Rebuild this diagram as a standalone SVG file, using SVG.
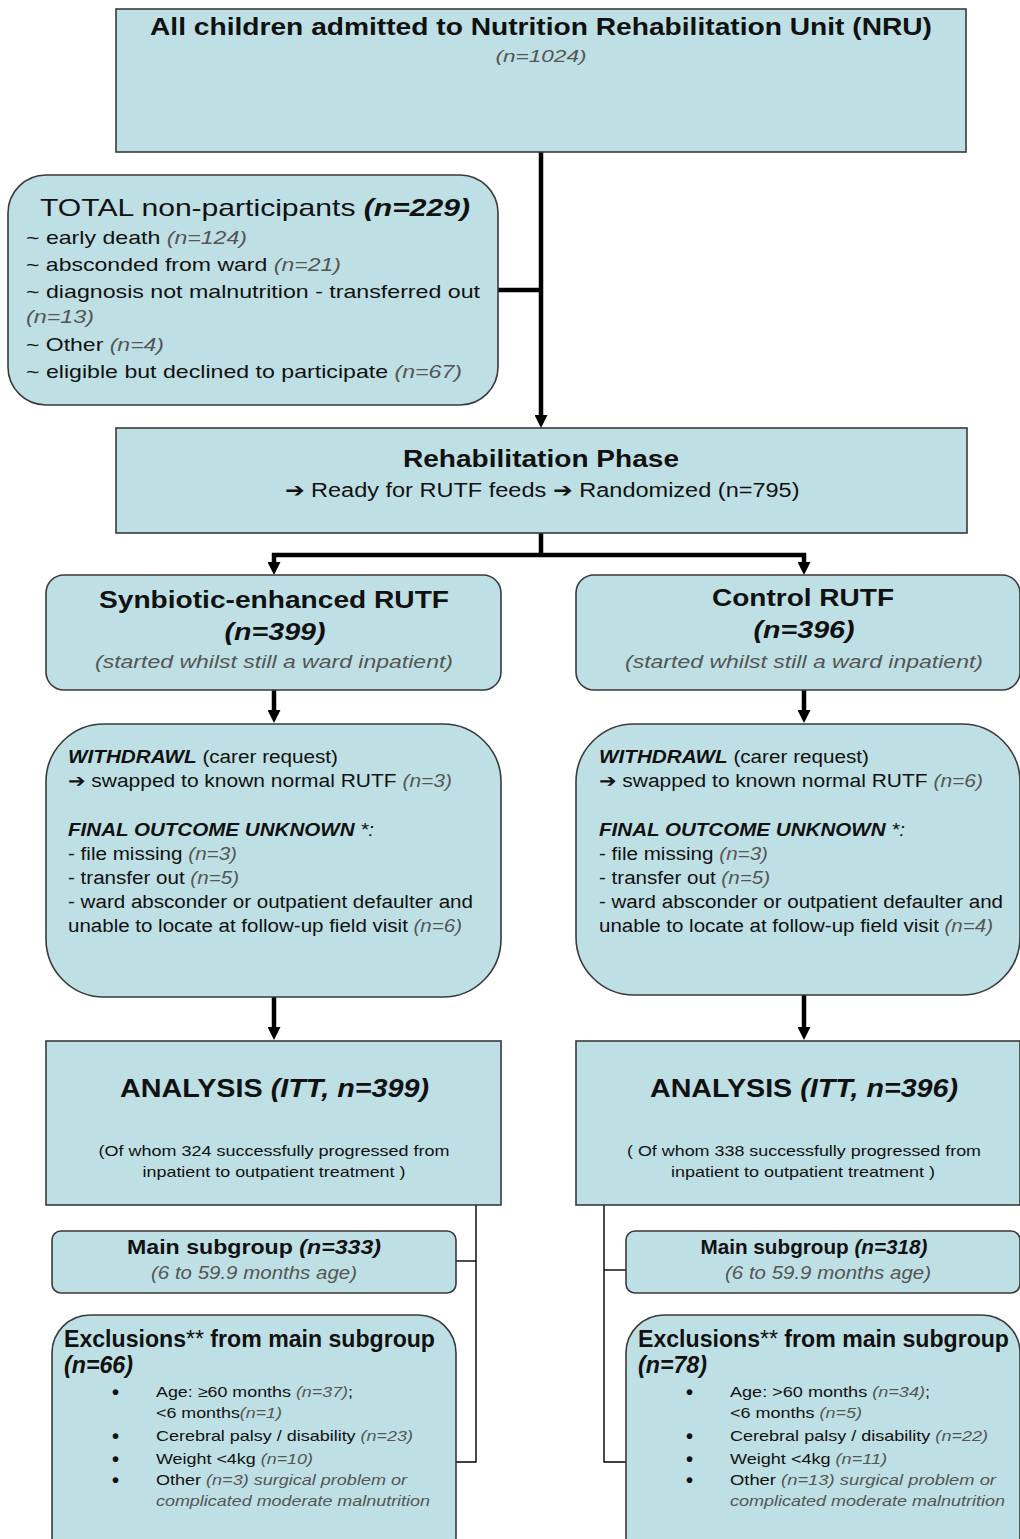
<svg xmlns="http://www.w3.org/2000/svg" width="1020" height="1539" viewBox="0 0 1020 1539">
  <defs>
    <marker id="arr" viewBox="0 0 10 10" refX="0" refY="5" markerWidth="13" markerHeight="13" markerUnits="userSpaceOnUse" orient="auto">
      <path d="M0,0 L10,5 L0,10 Z" fill="#000"/>
    </marker>
    <style>
      .box { fill: #bee0e4; stroke: #3a3a3a; stroke-width: 1.6; }
      text { font-family: "Liberation Sans", Arial, sans-serif; fill: #111; }
      .b { font-weight: bold; }
      .i { font-style: italic; }
      .g { fill: #555; }
      .dot { font-size: 20px; font-weight: bold; }
      .thick { stroke: #000; stroke-width: 4.5; fill: none; }
      .thin { stroke: #000; stroke-width: 1.4; fill: none; }
    </style>
  </defs>
  <rect width="1020" height="1539" fill="#fff"/>

  <!-- connectors -->
  <g id="connectors">
    <line class="thick" x1="541" y1="152" x2="541" y2="415" marker-end="url(#arr)"/>
    <line class="thick" x1="498" y1="290" x2="543" y2="290"/>
    <line class="thick" x1="541" y1="533" x2="541" y2="557"/>
    <line class="thick" x1="272" y1="555" x2="806" y2="555"/>
    <line class="thick" x1="274" y1="553" x2="274" y2="562" marker-end="url(#arr)"/>
    <line class="thick" x1="804" y1="553" x2="804" y2="562" marker-end="url(#arr)"/>
    <line class="thick" x1="274" y1="690" x2="274" y2="710" marker-end="url(#arr)"/>
    <line class="thick" x1="804" y1="690" x2="804" y2="710" marker-end="url(#arr)"/>
    <line class="thick" x1="274" y1="997" x2="274" y2="1027" marker-end="url(#arr)"/>
    <line class="thick" x1="804" y1="995" x2="804" y2="1027" marker-end="url(#arr)"/>
    <polyline class="thin" points="476,1205 476,1462 456,1462"/>
    <line class="thin" x1="456" y1="1261" x2="476" y2="1261"/>
    <polyline class="thin" points="604,1205 604,1462 630,1462"/>
    <line class="thin" x1="604" y1="1270" x2="626" y2="1270"/>
  </g>

  <!-- admitted -->
  <g id="node-admitted">
    <rect class="box" x="116" y="9" width="850" height="143"/>
    <text class="b" x="541" y="35" font-size="23" text-anchor="middle" textLength="782" lengthAdjust="spacingAndGlyphs">All children admitted to Nutrition Rehabilitation Unit (NRU)</text>
    <text class="i g" x="541" y="62" font-size="17" text-anchor="middle" textLength="91" lengthAdjust="spacingAndGlyphs">(n=1024)</text>
  </g>

  <!-- non-participants -->
  <g id="node-nonparticipants">
    <rect class="box" x="8" y="175" width="490" height="230" rx="38"/>
    <text x="40" y="216" font-size="24" textLength="430" lengthAdjust="spacingAndGlyphs">TOTAL non-participants <tspan class="b i">(n=229)</tspan></text>
    <text x="26" y="244" font-size="19" textLength="221" lengthAdjust="spacingAndGlyphs">~ early death <tspan class="i g">(n=124)</tspan></text>
    <text x="26" y="271" font-size="19" textLength="315" lengthAdjust="spacingAndGlyphs">~ absconded from ward <tspan class="i g">(n=21)</tspan></text>
    <text x="26" y="298" font-size="19" textLength="454" lengthAdjust="spacingAndGlyphs">~ diagnosis not malnutrition - transferred out</text>
    <text class="i g" x="26" y="323" font-size="19" textLength="68" lengthAdjust="spacingAndGlyphs">(n=13)</text>
    <text x="26" y="351" font-size="19" textLength="138" lengthAdjust="spacingAndGlyphs">~ Other <tspan class="i g">(n=4)</tspan></text>
    <text x="26" y="378" font-size="19" textLength="436" lengthAdjust="spacingAndGlyphs">~ eligible but declined to participate <tspan class="i g">(n=67)</tspan></text>
  </g>

  <!-- rehabilitation phase -->
  <g id="node-rehab">
    <rect class="box" x="116" y="428" width="851" height="105"/>
    <text class="b" x="541" y="467" font-size="24" text-anchor="middle" textLength="276" lengthAdjust="spacingAndGlyphs">Rehabilitation Phase</text>
    <text x="542" y="497" font-size="20" text-anchor="middle" textLength="515" lengthAdjust="spacingAndGlyphs">➔ Ready for RUTF feeds ➔ Randomized (n=795)</text>
  </g>

  <!-- synbiotic arm -->
  <g id="node-synbiotic">
    <rect class="box" x="46" y="575" width="455" height="115" rx="18"/>
    <text class="b" x="274" y="608" font-size="24" text-anchor="middle" textLength="350" lengthAdjust="spacingAndGlyphs">Synbiotic-enhanced RUTF</text>
    <text class="b i" x="275" y="640" font-size="24" text-anchor="middle" textLength="101" lengthAdjust="spacingAndGlyphs">(n=399)</text>
    <text class="i g" x="274" y="668" font-size="19" text-anchor="middle" textLength="358" lengthAdjust="spacingAndGlyphs">(started whilst still a ward inpatient)</text>
  </g>

  <!-- control arm -->
  <g id="node-control">
    <rect class="box" x="576" y="575" width="444" height="115" rx="18"/>
    <text class="b" x="803" y="606" font-size="24" text-anchor="middle" textLength="182" lengthAdjust="spacingAndGlyphs">Control RUTF</text>
    <text class="b i" x="804" y="638" font-size="24" text-anchor="middle" textLength="101" lengthAdjust="spacingAndGlyphs">(n=396)</text>
    <text class="i g" x="804" y="668" font-size="19" text-anchor="middle" textLength="358" lengthAdjust="spacingAndGlyphs">(started whilst still a ward inpatient)</text>
  </g>

  <!-- synbiotic losses -->
  <g id="node-synbiotic-losses">
    <rect class="box" x="46" y="724" width="455" height="273" rx="58"/>
    <text x="68" y="763" font-size="18" textLength="270" lengthAdjust="spacingAndGlyphs"><tspan class="b i">WITHDRAWL</tspan> (carer request)</text>
    <text x="68" y="787" font-size="18" textLength="384" lengthAdjust="spacingAndGlyphs">➔ swapped to known normal RUTF <tspan class="i g">(n=3)</tspan></text>
    <text class="b i" x="68" y="836" font-size="18" textLength="306" lengthAdjust="spacingAndGlyphs">FINAL OUTCOME UNKNOWN <tspan font-weight="normal">*:</tspan></text>
    <text x="68" y="860" font-size="18" textLength="169" lengthAdjust="spacingAndGlyphs">- file missing <tspan class="i g">(n=3)</tspan></text>
    <text x="68" y="884" font-size="18" textLength="171" lengthAdjust="spacingAndGlyphs">- transfer out <tspan class="i g">(n=5)</tspan></text>
    <text x="68" y="908" font-size="18" textLength="405" lengthAdjust="spacingAndGlyphs">- ward absconder or outpatient defaulter and</text>
    <text x="68" y="932" font-size="18" textLength="394" lengthAdjust="spacingAndGlyphs">unable to locate at follow-up field visit <tspan class="i g">(n=6)</tspan></text>
  </g>

  <!-- control losses -->
  <g id="node-control-losses">
    <rect class="box" x="576" y="724" width="444" height="271" rx="58"/>
    <text x="599" y="763" font-size="18" textLength="270" lengthAdjust="spacingAndGlyphs"><tspan class="b i">WITHDRAWL</tspan> (carer request)</text>
    <text x="599" y="787" font-size="18" textLength="384" lengthAdjust="spacingAndGlyphs">➔ swapped to known normal RUTF <tspan class="i g">(n=6)</tspan></text>
    <text class="b i" x="599" y="836" font-size="18" textLength="306" lengthAdjust="spacingAndGlyphs">FINAL OUTCOME UNKNOWN <tspan font-weight="normal">*:</tspan></text>
    <text x="599" y="860" font-size="18" textLength="169" lengthAdjust="spacingAndGlyphs">- file missing <tspan class="i g">(n=3)</tspan></text>
    <text x="599" y="884" font-size="18" textLength="171" lengthAdjust="spacingAndGlyphs">- transfer out <tspan class="i g">(n=5)</tspan></text>
    <text x="599" y="908" font-size="18" textLength="404" lengthAdjust="spacingAndGlyphs">- ward absconder or outpatient defaulter and</text>
    <text x="599" y="932" font-size="18" textLength="394" lengthAdjust="spacingAndGlyphs">unable to locate at follow-up field visit <tspan class="i g">(n=4)</tspan></text>
  </g>

  <!-- synbiotic analysis -->
  <g id="node-synbiotic-analysis">
    <rect class="box" x="46" y="1041" width="455" height="164"/>
    <text class="b" x="120" y="1097" font-size="25" textLength="309" lengthAdjust="spacingAndGlyphs">ANALYSIS <tspan class="i">(ITT, n=399)</tspan></text>
    <text x="274" y="1156" font-size="15" text-anchor="middle" textLength="351" lengthAdjust="spacingAndGlyphs">(Of whom 324 successfully progressed from</text>
    <text x="274" y="1177" font-size="15" text-anchor="middle" textLength="263" lengthAdjust="spacingAndGlyphs">inpatient to outpatient treatment )</text>
  </g>

  <!-- control analysis -->
  <g id="node-control-analysis">
    <rect class="box" x="576" y="1041" width="444" height="164"/>
    <text class="b" x="650" y="1097" font-size="25" textLength="308" lengthAdjust="spacingAndGlyphs">ANALYSIS <tspan class="i">(ITT, n=396)</tspan></text>
    <text x="804" y="1156" font-size="15" text-anchor="middle" textLength="354" lengthAdjust="spacingAndGlyphs">( Of whom 338 successfully progressed from</text>
    <text x="803" y="1177" font-size="15" text-anchor="middle" textLength="264" lengthAdjust="spacingAndGlyphs">inpatient to outpatient treatment )</text>
  </g>

  <!-- synbiotic main subgroup -->
  <g id="node-synbiotic-main">
    <rect class="box" x="52" y="1231" width="404" height="62" rx="9"/>
    <text class="b" x="254" y="1254" font-size="21" text-anchor="middle" textLength="254" lengthAdjust="spacingAndGlyphs">Main subgroup <tspan class="i">(n=333)</tspan></text>
    <text class="i g" x="254" y="1279" font-size="19" text-anchor="middle" textLength="206" lengthAdjust="spacingAndGlyphs">(6 to 59.9 months age)</text>
  </g>

  <!-- control main subgroup -->
  <g id="node-control-main">
    <rect class="box" x="626" y="1231" width="394" height="62" rx="9"/>
    <text class="b" x="814" y="1254" font-size="21" text-anchor="middle" textLength="227" lengthAdjust="spacingAndGlyphs">Main subgroup <tspan class="i">(n=318)</tspan></text>
    <text class="i g" x="828" y="1279" font-size="19" text-anchor="middle" textLength="206" lengthAdjust="spacingAndGlyphs">(6 to 59.9 months age)</text>
  </g>

  <!-- synbiotic exclusions -->
  <g id="node-synbiotic-exclusions">
    <rect class="box" x="52" y="1315" width="404" height="260" rx="38"/>
    <text class="b" x="64" y="1347" font-size="23" textLength="371" lengthAdjust="spacingAndGlyphs">Exclusions<tspan font-weight="normal">**</tspan> from main subgroup</text>
    <text class="b i" x="64" y="1373" font-size="23" textLength="69" lengthAdjust="spacingAndGlyphs">(n=66)</text>
    <text class="dot" x="112" y="1399">•</text>
    <text class="dot" x="112" y="1443">•</text>
    <text class="dot" x="112" y="1466">•</text>
    <text class="dot" x="112" y="1487">•</text>
    <text x="156" y="1397" font-size="15" textLength="197" lengthAdjust="spacingAndGlyphs">Age: ≥60 months <tspan class="i g">(n=37)</tspan>;</text>
    <text x="156" y="1418" font-size="15" textLength="126" lengthAdjust="spacingAndGlyphs">&lt;6 months<tspan class="i g">(n=1)</tspan></text>
    <text x="156" y="1441" font-size="15" textLength="257" lengthAdjust="spacingAndGlyphs">Cerebral palsy / disability <tspan class="i g">(n=23)</tspan></text>
    <text x="156" y="1464" font-size="15" textLength="157" lengthAdjust="spacingAndGlyphs">Weight &lt;4kg <tspan class="i g">(n=10)</tspan></text>
    <text x="156" y="1485" font-size="15" textLength="251" lengthAdjust="spacingAndGlyphs">Other <tspan class="i g">(n=3) surgical problem or</tspan></text>
    <text class="i g" x="156" y="1506" font-size="15" textLength="274" lengthAdjust="spacingAndGlyphs">complicated moderate malnutrition</text>
  </g>

  <!-- control exclusions -->
  <g id="node-control-exclusions">
    <rect class="box" x="626" y="1315" width="394" height="260" rx="38"/>
    <text class="b" x="638" y="1347" font-size="23" textLength="371" lengthAdjust="spacingAndGlyphs">Exclusions<tspan font-weight="normal">**</tspan> from main subgroup</text>
    <text class="b i" x="638" y="1373" font-size="23" textLength="69" lengthAdjust="spacingAndGlyphs">(n=78)</text>
    <text class="dot" x="686" y="1399">•</text>
    <text class="dot" x="686" y="1443">•</text>
    <text class="dot" x="686" y="1466">•</text>
    <text class="dot" x="686" y="1487">•</text>
    <text x="730" y="1397" font-size="15" textLength="200" lengthAdjust="spacingAndGlyphs">Age: &gt;60 months <tspan class="i g">(n=34)</tspan>;</text>
    <text x="730" y="1418" font-size="15" textLength="132" lengthAdjust="spacingAndGlyphs">&lt;6 months <tspan class="i g">(n=5)</tspan></text>
    <text x="730" y="1441" font-size="15" textLength="258" lengthAdjust="spacingAndGlyphs">Cerebral palsy / disability <tspan class="i g">(n=22)</tspan></text>
    <text x="730" y="1464" font-size="15" textLength="157" lengthAdjust="spacingAndGlyphs">Weight &lt;4kg <tspan class="i g">(n=11)</tspan></text>
    <text x="730" y="1485" font-size="15" textLength="266" lengthAdjust="spacingAndGlyphs">Other <tspan class="i g">(n=13)  surgical problem or</tspan></text>
    <text class="i g" x="730" y="1506" font-size="15" textLength="275" lengthAdjust="spacingAndGlyphs">complicated moderate malnutrition</text>
  </g>
</svg>
